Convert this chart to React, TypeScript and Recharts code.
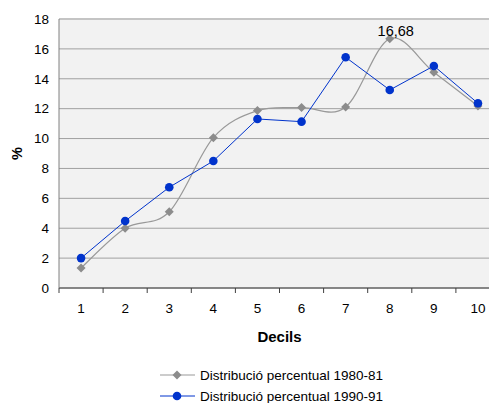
import React from 'react'
import {
  LineChart,
  Line,
  XAxis,
  YAxis,
  CartesianGrid,
  ReferenceLine,
  Legend,
} from 'recharts'

const decils = [1, 2, 3, 4, 5, 6, 7, 8, 9, 10]
const dist8081 = [1.34, 4.0, 5.1, 10.06, 11.87, 12.07, 12.11, 16.68, 14.44, 12.18]
const dist9091 = [2.0, 4.48, 6.74, 8.5, 11.31, 11.13, 15.44, 13.25, 14.86, 12.36]
const yTicks = [0, 2, 4, 6, 8, 10, 12, 14, 16, 18]
const seriesNames = ['Distribució percentual 1980-81', 'Distribució percentual 1990-91']

const data = decils.map((d, i) => ({ decil: d, a: dist8081[i], b: dist9091[i] }))
// labels at every decil, tick marks on the boundaries between them
const xTicks = [...decils.flatMap((d) => [d - 0.5, d]), decils[decils.length - 1] + 0.5]
const peakIndex = dist8081.indexOf(Math.max(...dist8081))

const FONT = '"Liberation Sans", Arial, sans-serif'
const GRAY = '#8c8c8c'
const BLUE = '#0033cc'

// Excel-style smoothed line (cardinal spline, tension 0)
const excelSmooth = (context: any) => {
  let pts: number[][] = []
  return {
    areaStart() {},
    areaEnd() {},
    lineStart() { pts = [] },
    lineEnd() {
      if (!pts.length) return
      context.moveTo(pts[0][0], pts[0][1])
      for (let i = 0; i < pts.length - 1; i += 1) {
        const p0 = pts[i - 1] || pts[i]
        const p1 = pts[i]
        const p2 = pts[i + 1]
        const p3 = pts[i + 2] || p2
        context.bezierCurveTo(
          p1[0] + (p2[0] - p0[0]) / 6, p1[1] + (p2[1] - p0[1]) / 6,
          p2[0] - (p3[0] - p1[0]) / 6, p2[1] - (p3[1] - p1[1]) / 6,
          p2[0], p2[1],
        )
      }
    },
    point(x: number, y: number) { pts.push([+x, +y]) },
  }
}

const DecilTick = ({ x, y, payload }: any) => {
  const v = payload.value
  if (Number.isInteger(v)) {
    return <text x={x} y={y + 20} dy="0.35em" textAnchor="middle" fontSize={13.5} fill="#000">{v}</text>
  }
  return <line x1={x} x2={x} y1={y} y2={y + 5} stroke="#404040" />
}

const Diamond = ({ cx, cy, index }: any) => (
  <path key={`d-${index}`} d={`M${cx},${cy - 4.5}L${cx + 4.5},${cy}L${cx},${cy + 4.5}L${cx - 4.5},${cy}Z`} fill={GRAY} />
)

const Dot = ({ cx, cy, index }: any) => (
  <circle key={`c-${index}`} cx={cx} cy={cy} r={4.3} fill={BLUE} />
)

const PeakLabel = ({ x, y, index, value }: any) => {
  if (index !== peakIndex) return null
  return (
    <text x={x + 6} y={y - 3} textAnchor="middle" fontSize={14.5} fill="#000">
      {String(value).replace('.', ',')}
    </text>
  )
}

const LegendRows = () => (
  <svg width={489} height={40}>
    <line x1={160} x2={195} y1={10} y2={10} stroke="#999" strokeWidth={1.2} />
    <path d="M177,5.5L181.5,10L177,14.5L172.5,10Z" fill={GRAY} />
    <text x={200} y={10} dy="0.35em" fontSize={13.5} fill="#000" fontFamily={FONT}>{seriesNames[0]}</text>
    <line x1={160} x2={195} y1={31} y2={31} stroke={BLUE} />
    <circle cx={177} cy={31} r={4.3} fill={BLUE} />
    <text x={200} y={31} dy="0.35em" fontSize={13.5} fill="#000" fontFamily={FONT}>{seriesNames[1]}</text>
  </svg>
)

export default function App() {
  return (
    <div style={{ position: 'absolute', left: 0, top: 0, width: 489, height: 403, overflow: 'hidden', background: '#fff' }}>
      <LineChart
        width={500}
        height={403}
        data={data}
        margin={{ top: 19, right: 0, left: 0, bottom: 55 }}
        style={{ fontFamily: FONT }}
      >
        <CartesianGrid vertical={false} fill="#f2f2f2" stroke="#a0a0a0" />
        <ReferenceLine y={18} stroke="#c4c4c4" strokeWidth={2} />
        <XAxis
          dataKey="decil"
          type="number"
          domain={[0.5, 10.5]}
          ticks={xTicks}
          interval={0}
          tickLine={false}
          tickSize={0}
          tickMargin={0}
          tick={<DecilTick />}
          height={60}
          stroke="#404040"
          label={{ value: 'Decils', position: 'insideBottom', offset: 6, fontSize: 15, fontWeight: 'bold', fill: '#000' }}
        />
        <YAxis
          domain={[0, 18]}
          ticks={yTicks}
          width={59}
          tickLine={false}
          tickSize={0}
          tickMargin={10}
          tick={{ fontSize: 13.5, fill: '#000' }}
          stroke="#808080"
          label={{
            content: ({ viewBox }: any) => (
              <text
                x={17}
                y={viewBox.y + viewBox.height / 2}
                transform={`rotate(-90, 17, ${viewBox.y + viewBox.height / 2})`}
                textAnchor="middle"
                dy="0.35em"
                fontSize={14.5}
                fontWeight="bold"
                fill="#000"
              >
                %
              </text>
            ),
          }}
        />
        <Legend
          layout="horizontal"
          verticalAlign="middle"
          align="center"
          wrapperStyle={{ top: 365, left: 0, width: 489 }}
          content={<LegendRows />}
        />
        <Line
          dataKey="a"
          name={seriesNames[0]}
          type={excelSmooth as any}
          stroke="#999"
          strokeWidth={1.2}
          dot={<Diamond />}
          activeDot={false}
          label={<PeakLabel />}
          isAnimationActive={false}
        />
        <Line
          dataKey="b"
          name={seriesNames[1]}
          type="linear"
          stroke={BLUE}
          strokeWidth={1}
          dot={<Dot />}
          activeDot={false}
          isAnimationActive={false}
        />
      </LineChart>
    </div>
  )
}
